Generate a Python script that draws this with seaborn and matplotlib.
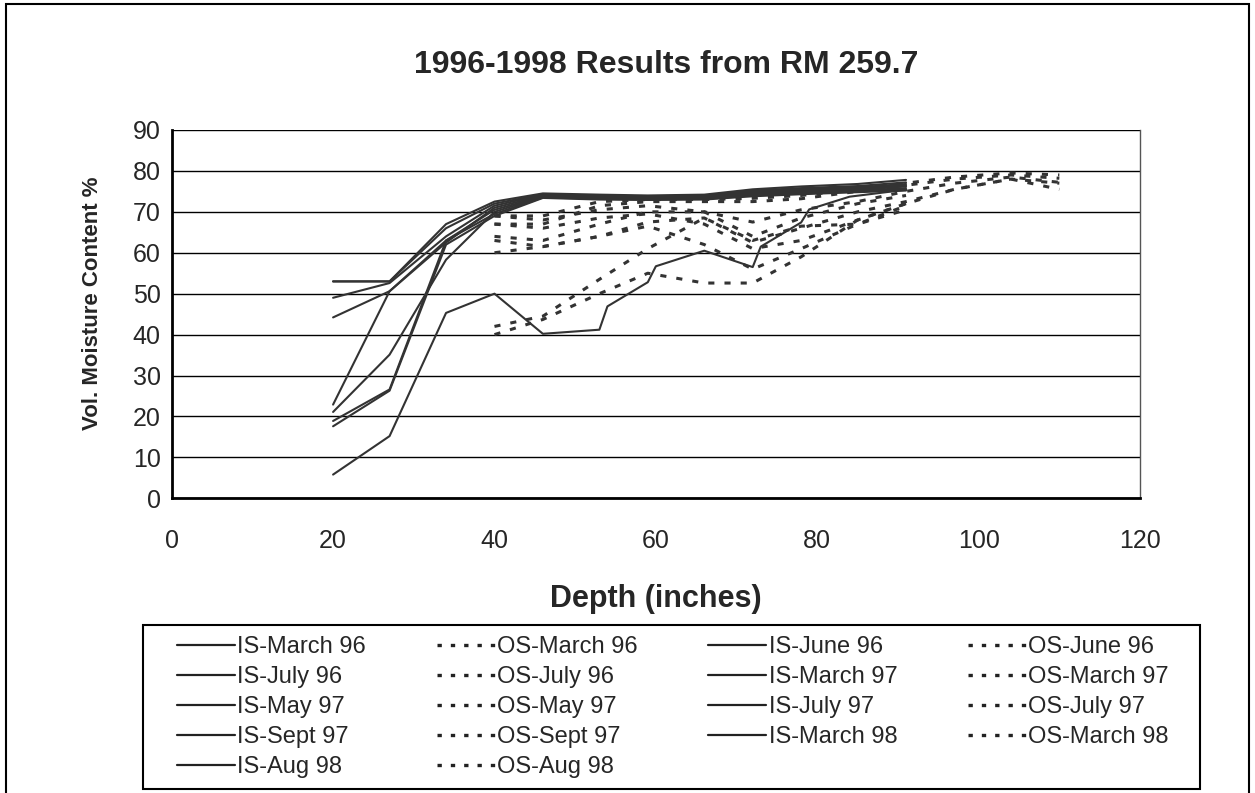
import matplotlib
matplotlib.use('Agg')
import matplotlib.pyplot as plt
from matplotlib.lines import Line2D
from matplotlib.patches import Rectangle
import seaborn as sns
import pandas as pd

# Depths (inches) sampled inside (IS) and outside (OS)
is_depth = [20, 27, 34, 40, 46, 53, 59, 66, 72, 78, 85, 91]
os_depth = [40, 46, 53, 59, 66, 72, 78, 85, 91, 97, 104, 110]
is_aug98_depth = [20, 27, 34, 40, 46, 53, 54, 59, 60, 66, 72, 73, 78, 79, 84, 91]

is_march96 = [53, 53, 67, 72.5, 74.5, 74.2, 74, 74.2, 75.5, 76.2, 76.8, 77.8]
is_june96 = [53, 53, 66, 72, 74.3, 74, 73.8, 74, 75.2, 75.8, 76.3, 77.2]
is_july96 = [49, 52.6, 64, 71.5, 74.2, 73.8, 73.6, 73.8, 75, 75.5, 76, 76.8]
is_march97 = [44.2, 50.6, 62.5, 71, 74, 73.6, 73.5, 73.6, 74.8, 75.3, 75.8, 76.5]
is_may97 = [22.9, 50.6, 63, 70.5, 73.8, 73.5, 73.4, 73.5, 74.5, 75, 75.5, 76.2]
is_july97 = [21.1, 35.1, 58.3, 70, 73.7, 73.4, 73.2, 73.4, 74.3, 74.8, 75.2, 75.8]
is_sept97 = [18.9, 26.6, 63, 69.5, 73.5, 73.2, 73, 73.2, 74, 74.5, 75, 75.5]
is_march98 = [17.6, 26.3, 62, 69, 73.4, 73, 72.9, 73, 73.8, 74.3, 74.8, 75.2]
is_aug98 = [5.8, 15.2, 45.3, 50, 40.2, 41.2, 46.9, 52.8, 56.7, 60.5, 56.5, 61.5,
            67.4, 70.6, 73.7, 75.4]

os_march96 = [69, 69, 72.5, 73, 73, 73.3, 74, 75.5, 77, 78.5, 79.5, 79]
os_june96 = [67, 67, 71.5, 72.5, 72.5, 72.5, 73.2, 75, 76.5, 78, 79, 78.2]
os_july96 = [64, 63, 67, 70, 70, 67.5, 70.5, 72.5, 75, 77, 78.5, 77.2]
os_march97 = [60, 61.5, 64, 67.5, 68.5, 62.5, 66, 70, 72.5, 75.5, 78, 75.5]
os_may97 = [69, 68, 70.5, 71.5, 70, 64, 68.5, 72, 74]
os_july97 = [67, 66, 68.5, 69.5, 67, 61, 63, 68, 72]
os_sept97 = [42, 44.5, 53.5, 61, 68.5, 63, 66.5, 67, 71.5]
os_march98 = [40, 43.7, 50, 55, 52.6, 52.6, 59, 68, 72, 75.5, 78, 77]
os_aug98 = [63, 61.5, 64, 66.5, 62, 56, 61, 67, 70.5]

dates = ["March 96", "June 96", "July 96", "March 97", "May 97",
         "July 97", "Sept 97", "March 98", "Aug 98"]
is_values = [is_march96, is_june96, is_july96, is_march97, is_may97,
             is_july97, is_sept97, is_march98, is_aug98]
os_values = [os_march96, os_june96, os_july96, os_march97, os_may97,
             os_july97, os_sept97, os_march98, os_aug98]

rows = []
for date, vals in zip(dates, is_values):
    depths = is_aug98_depth if date == "Aug 98" else is_depth
    for d, v in zip(depths, vals):
        rows.append({"series": "IS-" + date, "kind": "IS", "depth": d, "moisture": v})
for date, vals in zip(dates, os_values):
    for d, v in zip(os_depth, vals):
        rows.append({"series": "OS-" + date, "kind": "OS", "depth": d, "moisture": v})
df = pd.DataFrame(rows)

sns.set_style("white")
plt.rcParams['font.family'] = ['Liberation Sans', 'DejaVu Sans']

line_color = "#333333"
fig = plt.figure(figsize=(12.55, 7.93), dpi=100)
ax = fig.add_axes([0.1368, 0.3716, 0.7716, 0.4645])

ax.yaxis.grid(True, color="black", linewidth=1)
ax.set_axisbelow(True)

is_df = df[df["kind"] == "IS"]
os_df = df[df["kind"] == "OS"]
is_names = is_df["series"].unique()
os_names = os_df["series"].unique()

sns.lineplot(data=is_df, x="depth", y="moisture", hue="series", units="series",
             palette={n: line_color for n in is_names}, estimator=None, sort=False,
             linewidth=1.5, legend=False, ax=ax)
sns.lineplot(data=os_df, x="depth", y="moisture", hue="series", style="series",
             palette={n: line_color for n in os_names},
             dashes={n: (2, 3.3) for n in os_names}, estimator=None, sort=False,
             linewidth=2.2, legend=False, ax=ax)

ax.set_xlim(0, 120)
ax.set_ylim(0, 90)
ax.set_xticks(range(0, 121, 20))
ax.set_yticks(range(0, 91, 10))
ax.tick_params(axis="both", labelsize=18, direction="out", length=6, width=1,
               color="black", pad=2)
ax.tick_params(axis="x", pad=16)
for side in ["left", "bottom"]:
    ax.spines[side].set_color("black")
    ax.spines[side].set_linewidth(2)
ax.spines["top"].set_visible(False)
ax.spines["right"].set_color("#555555")
ax.spines["right"].set_linewidth(1)

ax.set_xlabel("Depth (inches)", fontsize=22, fontweight="bold")
ax.xaxis.set_label_coords(0.5, -0.232)
ax.set_ylabel("Vol. Moisture Content %", fontsize=16, fontweight="bold")
ax.yaxis.set_label_coords(-0.071, 0.53)
fig.text(0.531, 0.918, "1996-1998 Results from RM 259.7", fontsize=23,
         fontweight="bold", ha="center", va="center")

# legend, row-major like the original, so reorder for matplotlib's column fill
labels = []
handles = []
for date in dates:
    labels += ["IS-" + date, "OS-" + date]
    handles += [Line2D([], [], color="#222222", linewidth=1.6),
                Line2D([], [], color="#222222", linewidth=2.4, dashes=(1.3, 2.7))]
order = [i for c in range(4) for i in range(c, len(labels), 4)]
leg = fig.legend([handles[i] for i in order], [labels[i] for i in order],
                 ncol=4, loc="upper left",
                 bbox_to_anchor=(177 / 1255, 1 - 636 / 793),
                 bbox_transform=fig.transFigure, fontsize=17, frameon=False,
                 handlelength=2.45, handletextpad=0.1, labelspacing=0.34,
                 borderaxespad=0, borderpad=0, columnspacing=3.0)

# legend box and outer chart border
fig.patches.append(Rectangle((143 / 1255, 1 - 789 / 793), (1200 - 143) / 1255, (789 - 625) / 793,
                             transform=fig.transFigure, fill=False,
                             edgecolor="black", linewidth=1.5))
fig.patches.append(Rectangle((0.005, -0.05), 0.99, 1.045, transform=fig.transFigure,
                             fill=False, edgecolor="black", linewidth=1.5))

fig.savefig("out.png", dpi=100)
